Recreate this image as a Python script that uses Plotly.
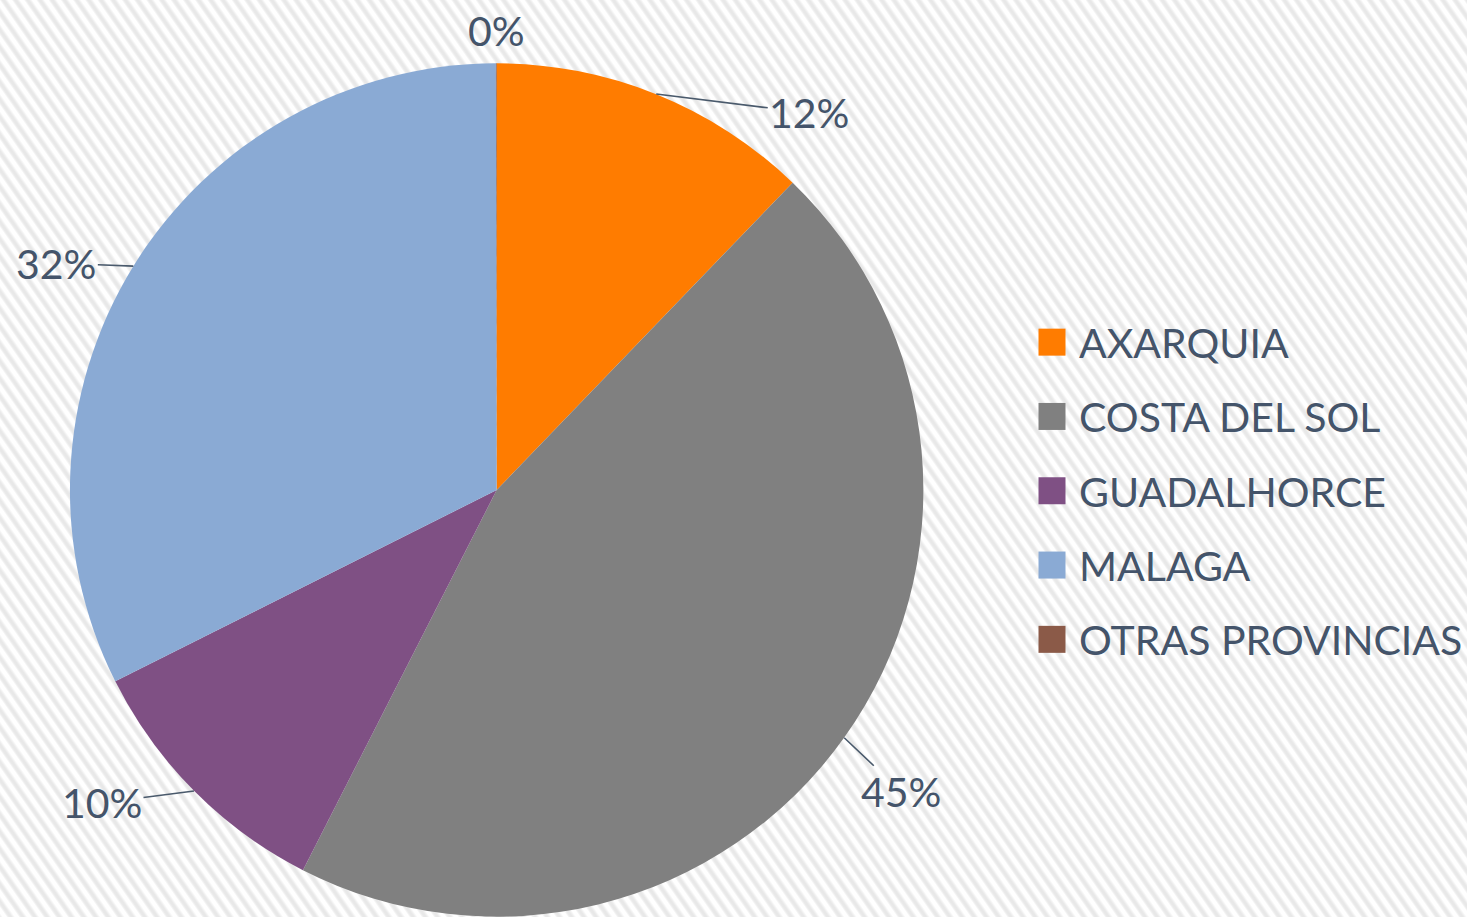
import math
import base64
import plotly.graph_objects as go

# ---- data ----
labels = ["AXARQUIA", "COSTA DEL SOL", "GUADALHORCE", "MALAGA", "OTRAS PROVINCIAS"]
values = [12.2, 45.3, 10.1, 32.37, 0.03]
colors = ["#FF7C00", "#808080", "#7F5084", "#8AAAD4", "#8B5A48"]

# ---- layout constants ----
W, H = 1468, 917
dom_x = [70 / W, 924 / W]
dom_y = [0.0, 854 / H]
text_color = "#44546A"
font_family = "Lato, 'Open Sans', sans-serif"
font_size = 41
# pixel offsets of each percentage label from its slice's outer edge point
label_offsets = [(153, 19), (57, 54), (-92, 12), (-77, -3), (0, -33)]

# ---- background: light diagonal stripes ----
svg = (
    f'<svg xmlns="http://www.w3.org/2000/svg" width="{W}" height="{H}">'
    '<defs><pattern id="p" width="10" height="40" patternUnits="userSpaceOnUse" '
    'patternTransform="rotate(-35)">'
    '<rect width="10" height="40" fill="#ffffff"/>'
    '<rect x="0" width="5.6" height="40" fill="#f3f3f3"/>'
    '<rect x="1.2" width="3.2" height="40" fill="#e8e8e8"/>'
    '</pattern></defs>'
    '<rect width="100%" height="100%" fill="url(#p)"/></svg>'
)
bg_src = "data:image/svg+xml;base64," + base64.b64encode(svg.encode()).decode()

fig = go.Figure()

fig.add_trace(go.Pie(
    labels=labels,
    values=values,
    sort=False,
    direction="clockwise",
    rotation=0,
    marker=dict(colors=colors, line=dict(width=0)),
    textinfo="none",
    hoverinfo="label+percent",
    showlegend=False,
    domain=dict(x=dom_x, y=dom_y),
))

# legend entries (one per category, same colours as the slices)
for lab, col in zip(labels, colors):
    fig.add_trace(go.Scatter(
        x=[None], y=[None], mode="markers", name=lab, legendgroup=lab,
        marker=dict(symbol="square", size=16, color=col),
        hoverinfo="skip",
    ))

# percentage labels with leader lines, placed from the pie geometry
total = sum(values)
cx = (dom_x[0] + dom_x[1]) / 2 * W
cy = H - (dom_y[0] + dom_y[1]) / 2 * H
r = min((dom_x[1] - dom_x[0]) * W, (dom_y[1] - dom_y[0]) * H) / 2
annotations = []
cum = 0.0
for v, (ax, ay) in zip(values, label_offsets):
    mid = (cum + v / 2) / total * 2 * math.pi
    cum += v
    px = cx + r * math.sin(mid)
    py = cy - r * math.cos(mid)
    pct = round(v / total * 100)
    far = math.hypot(ax, ay) > 40
    annotations.append(dict(
        x=px / W, y=1 - py / H, xref="paper", yref="paper",
        xanchor="center", yanchor="middle",
        text=f"{pct}%",
        showarrow=far,
        ax=ax, ay=ay,
        arrowhead=0, arrowwidth=1.6, arrowcolor="#4A5A6C", standoff=0,
        xshift=0 if far else ax, yshift=0 if far else -ay,
        font=dict(family=font_family, size=font_size, color=text_color),
    ))

fig.update_layout(
    width=W, height=H,
    margin=dict(l=0, r=0, t=0, b=0),
    paper_bgcolor="#ffffff",
    plot_bgcolor="rgba(0,0,0,0)",
    xaxis=dict(visible=False),
    yaxis=dict(visible=False),
    images=[dict(source=bg_src, xref="paper", yref="paper", x=0, y=1,
                 sizex=1, sizey=1, sizing="stretch", layer="below",
                 xanchor="left", yanchor="top")],
    annotations=annotations,
    legend=dict(
        x=1026 / W, y=1 - 491 / H, xanchor="left", yanchor="middle",
        font=dict(family=font_family, size=font_size, color=text_color),
        itemwidth=44, tracegroupgap=18, bgcolor="rgba(0,0,0,0)",
        itemclick=False, itemdoubleclick=False,
    ),
    hoverlabel=dict(font=dict(family=font_family)),
)

post = """
document.body.style.margin = '0';
document.body.style.overflow = 'hidden';
var gd = document.getElementById('{plot_id}');
gd.querySelectorAll('.legend .legendpoints path.scatterpts').forEach(function(p){
  var t = p.getAttribute('transform') || '';
  p.setAttribute('transform', t + ' scale(1.6875)');
});
"""

fig.write_html("out.html", post_script=post, config={"displayModeBar": False})
